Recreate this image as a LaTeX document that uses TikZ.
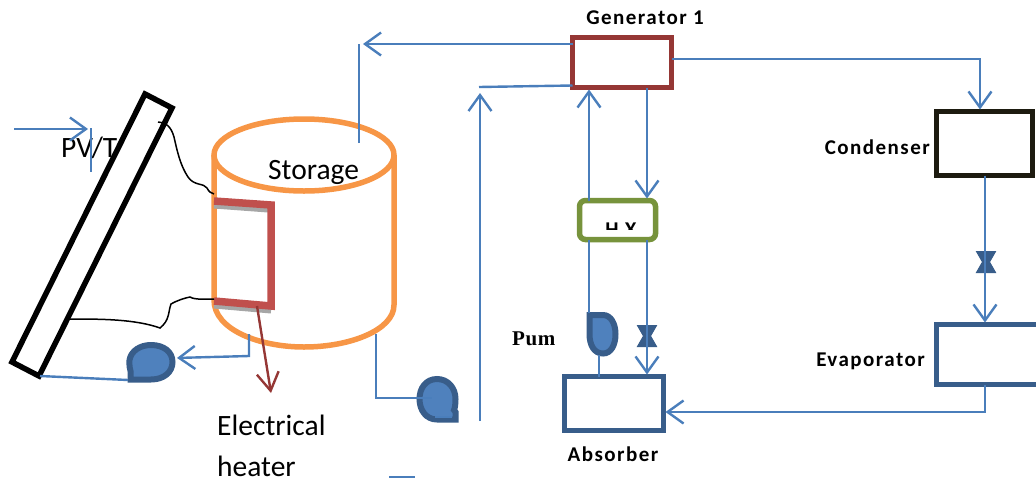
\documentclass[tikz,border=0pt]{standalone}
\usepackage{fontspec}
\setmainfont{Carlito}
\newfontfamily\lblfont[LetterSpace=7]{Carlito}
\newfontfamily\pumfont[LetterSpace=3]{Liberation Serif}
\usetikzlibrary{arrows.meta,calc}
\definecolor{flow}{HTML}{4A7EBB}
\definecolor{navy}{HTML}{385D8A}
\definecolor{fillblue}{HTML}{4F81BD}
\definecolor{storagec}{HTML}{F79646}
\definecolor{coil}{HTML}{C0504D}
\definecolor{genred}{HTML}{953735}
\definecolor{hxgreen}{HTML}{77933C}
\definecolor{darkbox}{HTML}{1D1B10}
\tikzset{
  flowline/.style={draw=flow,line width=2.4pt},
  flowarrow/.style={flowline,shorten >=2pt,-{Straight Barb[length=16pt,width=23pt,line width=2.4pt]}},
  unit/.style={draw,fill=white,line width=5.5pt,inner sep=0pt,outer sep=0pt},
  lbl/.style={font=\lblfont\bfseries\fontsize{21}{21}\selectfont,text=black,inner sep=0pt},
  big/.style={font=\fontsize{29.5}{29.5}\selectfont,text=black,inner sep=0pt,anchor=base west},
  pumpbody/.style={draw=navy,fill=fillblue,line width=6pt},
  valve/.style={draw=navy,fill=navy,line width=1pt},
  wire/.style={draw=black,line width=1.5pt},
}
\begin{document}
\begin{tikzpicture}[x=1pt,y=-1pt]
\useasboundingbox (0,0) rectangle (1036,480);
\clip (0,0) rectangle (1036,480);
% storage
\draw[storagec,line width=5.5pt] (214,155) -- (214,300) .. controls (214,330) and (260,347) .. (304,347) .. controls (350,347) and (394,330) .. (394,305) -- (394,155);
\draw[storagec,line width=5.5pt] (304,155) ellipse [x radius=90,y radius=36];
\node[big] (storage) at (268,179) {Storage};
% coil
\coordinate (c1) at (214,201);
\coordinate (c2) at (271,205);
\coordinate (c3) at (214,301);
\coordinate (c4) at (271,306);
\draw[gray!70,line width=5pt] ($(c1)+(0,5)$) -- ($(c2)+(-3,5)$);
\draw[gray!70,line width=5pt] ($(c3)+(0,5)$) -- ($(c4)+(0,5)$);
\draw[coil,line width=7.5pt] (c1) -- (c2) -- (c4) -- (c3);
% PV panel
\draw[black,line width=5.5pt,fill=white] (145,94) -- (172,108) -- (39,376) -- (12,362) -- cycle;
% wires
\draw[wire] (158,122) .. controls (165,122) and (171,126) .. (174,137) .. controls (177,150) and (180,165) .. (188,177) .. controls (194,186) and (204,183) .. (207,188) .. controls (209,192) and (211,193) .. (214,194);
\draw[wire] (70,319) .. controls (100,319) and (135,319) .. (160,328) .. controls (170,320) and (168,312) .. (171,304) .. controls (178,300) and (185,298) .. (190,297) .. controls (195,300) and (205,299) .. (214,299);
% units
\node[unit,draw=genred,minimum width=99pt,minimum height=50pt] (gen) at (622,62.5) {};
\node[unit,draw=darkbox,minimum width=96pt,minimum height=64pt] (cond) at (984.5,143.5) {};
\node[unit,draw=navy,minimum width=130pt,minimum height=60pt,anchor=west] (evap) at (936.5,354.5) {};
\node[unit,draw=navy,minimum width=99pt,minimum height=54pt] (abs) at (614,403.5) {};
\node[unit,draw=hxgreen,rounded corners=6pt,minimum width=76pt,minimum height=39pt] (hx) at (617.5,220) {};
\begin{scope}
\clip (590,205) rectangle (650,229.5);
\node[font=\lblfont\bfseries\fontsize{21}{21}\selectfont,anchor=base,inner sep=0pt] (hxt) at (621,236) {H X};
\end{scope}
% labels
\node[big] (pvt) at (61,157) {PV/T};
\node[big] (heater1) at (217,435) {Electrical};
\node[big] (heater2) at (217,476) {heater};
\node[lbl,anchor=base] (gl) at (645,24) {Generator 1};
\node[lbl,anchor=base east] (cl) at (930,154) {Condenser};
\node[lbl,anchor=base east] (el) at (925,366) {Evaporator};
\node[lbl,anchor=base] (al) at (613,461) {Absorber};
\node[anchor=base west,inner sep=0pt,font=\pumfont\bfseries\fontsize{21}{21}\selectfont] (pl) at (512,345) {Pum};
% pumps
\draw[pumpbody] (151,345) .. controls (164,345) and (172.5,352) .. (172.5,362) .. controls (172.5,372) and (164,379.5) .. (151,379.5) -- (130.5,379.5) -- (130.5,371) .. controls (129,366) and (129.5,362) .. (129.5,360) .. controls (131,351) and (140,345) .. (151,345) -- cycle;
\coordinate (p1e) at (175,358);
\coordinate (p1w) at (128,380);
\draw[pumpbody] (437,379) .. controls (448,379) and (455.5,388) .. (455.5,399) .. controls (455.5,404) and (455,408) .. (454,410) -- (455.5,412) -- (455.5,419.5) -- (437,419.5) .. controls (426,419.5) and (419.5,410) .. (419.5,399) .. controls (419.5,388) and (426,379) .. (437,379) -- cycle;
\coordinate (p2w) at (432,398);
\draw[flow,line width=1.2pt] (435,417) -- (452,417);
\draw[pumpbody] (589.5,315) -- (603,315) .. controls (611,315) and (615.5,324) .. (615.5,334) .. controls (615.5,345) and (611,353.5) .. (603,353.5) .. controls (594,353.5) and (589.5,345) .. (589.5,334) -- cycle;
\coordinate (p3n) at (589,313);
\coordinate (p3s) at (599,355);
% valves
\coordinate (v1) at (647,336);
\coordinate (v2) at (986,262);
\draw[valve] ($(v1)+(-9.5,-10.5)$) -- ($(v1)+(9.5,-10.5)$) -- ($(v1)+(3.5,0)$) -- ($(v1)+(9.5,10.5)$) -- ($(v1)+(-9.5,10.5)$) -- ($(v1)+(-3.5,0)$) -- cycle;
\draw[valve] ($(v2)+(-9.5,-10.5)$) -- ($(v2)+(9.5,-10.5)$) -- ($(v2)+(3.5,0)$) -- ($(v2)+(9.5,10.5)$) -- ($(v2)+(-9.5,10.5)$) -- ($(v2)+(-3.5,0)$) -- cycle;
% connectors
\coordinate (inA) at (14,129);
\coordinate (inB) at (90,129);
\draw[flowarrow] (inA) -- (inB);
\coordinate (tickA) at (91,128);
\coordinate (tickB) at (91,172);
\draw[flowline] (tickA) -- (tickB);
\coordinate (panelB) at (40,376);
\draw[flowline] (panelB) -- (p1w);
\coordinate (stOut1) at (249,334);
\draw[flowarrow] (stOut1) -- (249,356) -- (p1e);
\coordinate (stOut2) at (376,334);
\draw[flowline] (stOut2) -- (376,398) -- (p2w);
\coordinate (upA) at (480,421);
\coordinate (upB) at (480,91);
\draw[flowarrow] (upA) -- (upB);
\coordinate (retA) at (479,87);
\draw[flowline] (retA) -- (gen.west |- 0,85.5);
\coordinate (stIn) at (359,143);
\coordinate (stTop) at (359,44);
\draw[flowline] (stIn) -- (stTop);
\draw[flowarrow] (gen.west |- stTop) -- (361,44);
\draw[flowarrow] (gen.east |- 0,59) -- (980,59) -- (cond.north -| 980,0);
\draw[flowarrow] (hx.north -| 589,0) -- (gen.south -| 589,0);
\draw[flowarrow] (gen.south -| 647,0) -- (hx.north -| 647,0);
\draw[flowline] (hx.south -| 589,0) -- (p3n);
\draw[flowarrow] (hx.south -| 647,0) -- (abs.north -| 647,0);
\draw[flowline] (p3s) -- (abs.north -| 599,0);
\draw[flowarrow] (cond.south -| 985,0) -- (evap.north -| 985,0);
\draw[flowarrow] (evap.south -| 985,0) -- (985,412) -- (abs.east |- 0,412);
\coordinate (dashA) at (389,477);
\coordinate (dashB) at (415,477);
\draw[flowline] (dashA) -- (dashB);
% red arrow
\coordinate (rA) at (257,306);
\coordinate (rB) at (271,393);
\draw[genred,line width=2.4pt,-{Straight Barb[length=18pt,width=22pt,line width=2.4pt]}] (rA) -- (rB);
\end{tikzpicture}
\end{document}
